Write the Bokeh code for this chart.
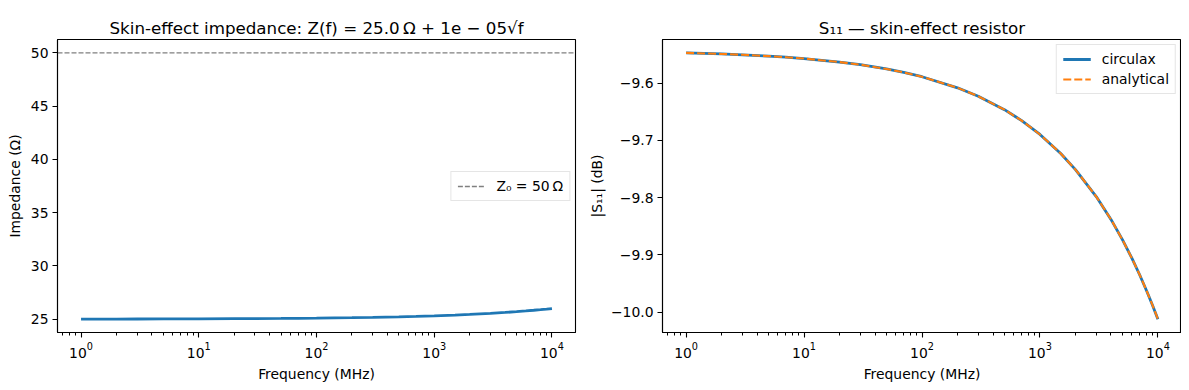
from bokeh.plotting import figure
from bokeh.layouts import row
from bokeh.models import (Range1d, FixedTicker, LogTicker, CustomJSTickFormatter,
                          Legend, LegendItem, Title)
from bokeh.embed import file_html
from bokeh.resources import INLINE

# ---- data ----
freq_mhz = [1, 2, 3, 5, 7, 10, 20, 30, 50, 70, 100, 200, 300, 500, 700,
            1000, 1500, 2000, 3000, 4000, 5000, 6000, 7000, 8000, 9000, 10000]
impedance_ohm = [25.010, 25.014, 25.017, 25.022, 25.026, 25.032, 25.045, 25.055,
                 25.071, 25.084, 25.100, 25.141, 25.173, 25.224, 25.265, 25.316,
                 25.387, 25.447, 25.548, 25.632, 25.707, 25.775, 25.837, 25.894,
                 25.949, 26.000]
s11_circulax_db = [-9.5471, -9.5490, -9.5505, -9.5528, -9.5547, -9.5571, -9.5632,
                   -9.5678, -9.5752, -9.5812, -9.5888, -9.6081, -9.6229, -9.6463,
                   -9.6654, -9.6896, -9.7228, -9.7509, -9.7980, -9.8379, -9.8732,
                   -9.9051, -9.9345, -9.9619, -9.9876, -10.0121]
s11_analytical_db = [-9.5471, -9.5490, -9.5505, -9.5528, -9.5547, -9.5571, -9.5632,
                     -9.5678, -9.5752, -9.5812, -9.5888, -9.6081, -9.6229, -9.6463,
                     -9.6654, -9.6896, -9.7228, -9.7509, -9.7980, -9.8379, -9.8732,
                     -9.9051, -9.9345, -9.9619, -9.9876, -10.0121]
z0_ohm = 50
left_yticks = [25, 30, 35, 40, 45, 50]
right_yticks = [-10.0, -9.9, -9.8, -9.7, -9.6]
left_title = "Skin-effect impedance: Z(f) = 25.0\u2009Ω + 1e − 05√f"
right_title = "S₁₁ — skin-effect resistor"

BLUE = "#1f77b4"
ORANGE = "#ff7f0e"
FONT = "DejaVu Sans"
TICK_PX = "13.9px"
H = 388
TOP = 39
BOTTOM = 56


def style(p, title_text):
    p.outline_line_color = "black"
    p.outline_line_width = 1.1
    p.outline_line_alpha = 1.0
    p.xgrid.visible = False
    p.ygrid.visible = False
    p.background_fill_color = "white"
    p.border_fill_color = "white"
    for ax in p.xaxis + p.yaxis:
        ax.axis_label_text_font = FONT
        ax.axis_label_text_font_size = TICK_PX
        ax.axis_label_text_font_style = "normal"
        ax.axis_label_text_color = "black"
        ax.major_label_text_font = FONT
        ax.major_label_text_font_size = TICK_PX
        ax.major_label_text_color = "black"
        ax.axis_line_color = "black"
        ax.axis_line_width = 1.1
        ax.major_tick_line_color = "black"
        ax.major_tick_line_width = 1.1
        ax.minor_tick_line_color = "black"
        ax.minor_tick_line_width = 1
        ax.major_tick_in = 0
        ax.major_tick_out = 5
        ax.minor_tick_in = 0
        ax.minor_tick_out = 3
        ax.major_label_standoff = 4
    p.xaxis.axis_label = "Frequency (MHz)"
    p.xaxis.ticker = LogTicker(num_minor_ticks=10)
    p.xaxis.axis_label_standoff = 5
    p.yaxis.axis_label_standoff = 5
    p.yaxis.minor_tick_line_color = None
    # visible title, then an invisible spacer between it and the frame
    t = Title(text=title_text, align="center", text_font=FONT, text_font_size="16.7px",
              text_font_style="normal", text_color="black", standoff=4)
    p.add_layout(t, "above")
    spacer = Title(text=".", text_font=FONT, text_font_size="11px", text_alpha=0.0, standoff=0)
    p.add_layout(spacer, "above")


xr_lo, xr_hi = 10 ** -0.2, 10 ** 4.2

# ---- left panel ----
p1 = figure(width=582, height=H, x_axis_type="log",
            x_range=Range1d(xr_lo, xr_hi), y_range=Range1d(23.75, 51.25),
            output_backend="svg", toolbar_location=None,
            min_border_left=57, min_border_right=7, min_border_top=TOP, min_border_bottom=BOTTOM)
style(p1, left_title)
p1.yaxis.axis_label = "Impedance (Ω)"
p1.yaxis.ticker = FixedTicker(ticks=left_yticks)
p1.line(freq_mhz, impedance_ohm, line_color=BLUE, line_width=2.8)
zline = p1.line([xr_lo, xr_hi], [z0_ohm, z0_ohm], line_color="gray",
                line_width=1.3, line_dash="5 2")
leg1 = Legend(items=[LegendItem(label="Z₀ = 50\u2009Ω", renderers=[zline])],
              location="right")
p1.add_layout(leg1)

# ---- right panel ----
p2 = figure(width=599, height=H, x_axis_type="log",
            x_range=Range1d(xr_lo, xr_hi), y_range=Range1d(-10.0353, -9.5238),
            output_backend="svg", toolbar_location=None,
            min_border_left=80, min_border_right=0, min_border_top=TOP, min_border_bottom=BOTTOM)
style(p2, right_title)
p2.yaxis.axis_label = "|S₁₁| (dB)"
p2.yaxis.axis_label_standoff = 3
p2.yaxis.ticker = FixedTicker(ticks=right_yticks)
p2.yaxis.formatter = CustomJSTickFormatter(code="return tick.toFixed(1).replace('-', '\u2212');")
r_c = p2.line(freq_mhz, s11_circulax_db, line_color=BLUE, line_width=2.8)
r_a = p2.line(freq_mhz, s11_analytical_db, line_color=ORANGE, line_width=2.1, line_dash="8 3")
leg2 = Legend(items=[LegendItem(label="circulax", renderers=[r_c]),
                     LegendItem(label="analytical", renderers=[r_a])],
              location="top_right")
p2.add_layout(leg2)

for lg in (leg1, leg2):
    lg.label_text_font = FONT
    lg.label_text_font_size = TICK_PX
    lg.label_text_color = "black"
    lg.glyph_width = 28
    lg.glyph_height = 14
    lg.label_standoff = 11
    lg.spacing = 4
    lg.padding = 6
    lg.margin = 5
    lg.border_line_color = "#cccccc"
    lg.border_line_width = 1
    lg.background_fill_alpha = 0.8
    lg.label_height = 14

layout = row(p1, p2)
open("out.html", "w").write(file_html(layout, INLINE))
